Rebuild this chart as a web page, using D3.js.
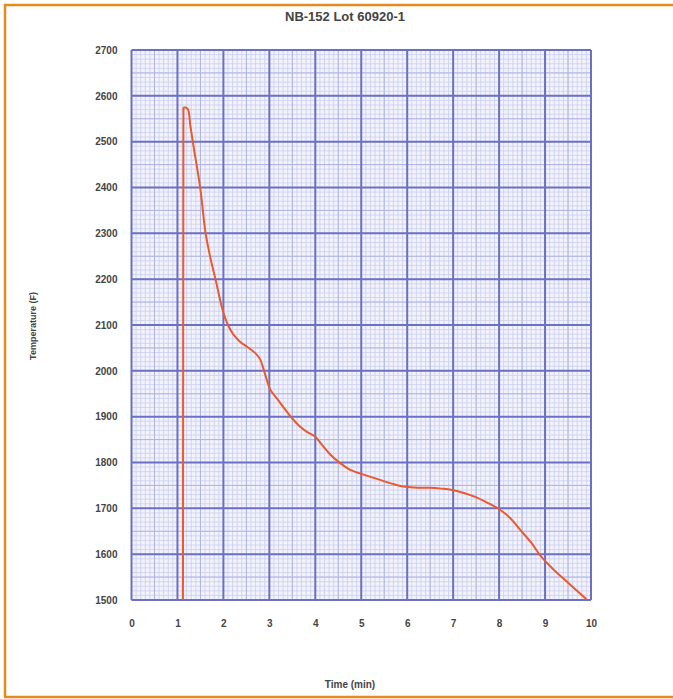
<!DOCTYPE html>
<html>
<head>
<meta charset="utf-8">
<script src="https://cdn.jsdelivr.net/npm/d3@7"></script>
<style>
  body { margin: 0; background: #fff; }
  svg { display: block; font-family: "Liberation Sans", Arial, sans-serif; }
  .tick-label { font-size: 10px; font-weight: bold; fill: #444; }
</style>
</head>
<body>
<div id="chart"></div>
<script>
// Cooling curve
const TITLE = 'NB-152 Lot 60920-1';
const X_LABEL = 'Time (min)';
const Y_LABEL = 'Temperature (F)';
const timeMin = [1.12, 1.13, 1.22, 1.28, 1.35, 1.5, 1.61, 1.72, 1.83, 1.98, 2.1, 2.22, 2.38, 2.54, 2.7, 2.8, 2.9, 3.02, 3.2, 3.35, 3.5, 3.63, 3.8, 4.0, 4.15, 4.33, 4.55, 4.76, 5.1, 5.41, 5.7, 5.96, 6.25, 6.5, 6.75, 6.98, 7.25, 7.48, 7.75, 8.02, 8.25, 8.46, 8.7, 8.89, 9.15, 9.43, 9.65, 9.9];
const tempF = [1500, 2575, 2572, 2535, 2490, 2396, 2302, 2245, 2199, 2134, 2100, 2079, 2062, 2051, 2038, 2025, 1995, 1959, 1935, 1915, 1896, 1882, 1868, 1856, 1838, 1817, 1798, 1784, 1772, 1762, 1753, 1747, 1745, 1745, 1743, 1740, 1733, 1725, 1712, 1697, 1678, 1653, 1625, 1598, 1570, 1544, 1524, 1502];
const xTicks = [0, 1, 2, 3, 4, 5, 6, 7, 8, 9, 10];
const yTicks = [1500, 1600, 1700, 1800, 1900, 2000, 2100, 2200, 2300, 2400, 2500, 2600, 2700];

const W = 673, H = 699;
const margin = { top: 50, right: 82, bottom: 99, left: 131.5 };
const width = W - margin.left - margin.right;
const height = H - margin.top - margin.bottom;

const svg = d3.select('#chart').append('svg')
    .attr('width', W).attr('height', H);

// Orange frame (top, left, bottom only)
const frame = svg.append('g').attr('stroke', '#e38b1c').attr('stroke-width', 2.5).attr('fill', 'none');
frame.append('line').attr('x1', 4).attr('x2', W).attr('y1', 5).attr('y2', 5);
frame.append('line').attr('x1', 5).attr('x2', 5).attr('y1', 4).attr('y2', 697);
frame.append('line').attr('x1', 4).attr('x2', W).attr('y1', 697).attr('y2', 697);

svg.append('text')
    .attr('x', 345).attr('y', 21)
    .attr('text-anchor', 'middle')
    .attr('font-size', 13).attr('font-weight', 'bold').attr('fill', '#444')
    .text(TITLE);

const g = svg.append('g').attr('transform', `translate(${margin.left},${margin.top})`);

const x = d3.scaleLinear().domain([0, 10]).range([0, width]);
const y = d3.scaleLinear().domain([1500, 2700]).range([height, 0]);

// Graph paper background
g.append('rect')
    .attr('width', width).attr('height', height)
    .attr('fill', '#f3f3fb');

const minorX = d3.range(0, 10.001, 0.1);
const minorY = d3.range(1500, 2700.1, 10);

g.append('g').selectAll('line')
    .data(minorX)
    .enter().append('line')
    .attr('x1', d => x(d)).attr('x2', d => x(d))
    .attr('y1', 0).attr('y2', height)
    .attr('stroke', '#ccd0f0').attr('stroke-width', 0.9);

g.append('g').selectAll('line')
    .data(minorY)
    .enter().append('line')
    .attr('y1', d => y(d)).attr('y2', d => y(d))
    .attr('x1', 0).attr('x2', width)
    .attr('stroke', '#cfd2f0').attr('stroke-width', 0.9);

// Half-major lines
g.append('g').selectAll('line')
    .data(d3.range(0.5, 10, 1))
    .enter().append('line')
    .attr('x1', d => x(d)).attr('x2', d => x(d))
    .attr('y1', 0).attr('y2', height)
    .attr('stroke', '#b0b4e4').attr('stroke-width', 1);

g.append('g').selectAll('line')
    .data(d3.range(1550, 2700, 100))
    .enter().append('line')
    .attr('y1', d => y(d)).attr('y2', d => y(d))
    .attr('x1', 0).attr('x2', width)
    .attr('stroke', '#b0b4e4').attr('stroke-width', 1);

// Major grid
g.append('g').selectAll('line')
    .data(xTicks)
    .enter().append('line')
    .attr('x1', d => x(d)).attr('x2', d => x(d))
    .attr('y1', 0).attr('y2', height)
    .attr('stroke', '#6a70c6').attr('stroke-width', 2);

g.append('g').selectAll('line')
    .data(yTicks)
    .enter().append('line')
    .attr('y1', d => y(d)).attr('y2', d => y(d))
    .attr('x1', 0).attr('x2', width)
    .attr('stroke', '#6a70c6').attr('stroke-width', 2);

// Curve: straight rise, then smoothed cooling
const data = timeMin.map((t, i) => ({ t, v: tempF[i] }));
const rise = d3.line().x(d => x(d.t)).y(d => y(d.v));
const cool = d3.line()
    .x(d => x(d.t))
    .y(d => y(d.v))
    .curve(d3.curveCatmullRom.alpha(0.5));

g.append('path')
    .datum(data.slice(0, 2))
    .attr('fill', 'none')
    .attr('stroke', '#e95a2c')
    .attr('stroke-width', 2)
    .attr('d', rise);

g.append('path')
    .datum(data.slice(1))
    .attr('fill', 'none')
    .attr('stroke', '#e95a2c')
    .attr('stroke-width', 2)
    .attr('stroke-linejoin', 'round')
    .attr('d', cool);

// Axes (labels only, lines hidden)
const xAxis = g.append('g')
    .attr('transform', `translate(0,${height})`)
    .call(d3.axisBottom(x).tickValues(xTicks).tickSize(0).tickPadding(20).tickFormat(d3.format('d')));
const yAxis = g.append('g')
    .call(d3.axisLeft(y).tickValues(yTicks).tickSize(0).tickPadding(14).tickFormat(d3.format('d')));
[xAxis, yAxis].forEach(a => {
    a.select('.domain').remove();
    a.selectAll('text').attr('class', 'tick-label');
});

svg.append('text')
    .attr('x', 350).attr('y', 688)
    .attr('text-anchor', 'middle')
    .attr('font-size', 10).attr('font-weight', 'bold').attr('fill', '#444')
    .text(X_LABEL);

svg.append('text')
    .attr('transform', 'translate(36,326) rotate(-90)')
    .attr('text-anchor', 'middle')
    .attr('font-size', 9).attr('font-weight', 'bold').attr('fill', '#444')
    .text(Y_LABEL);
</script>
</body>
</html>
